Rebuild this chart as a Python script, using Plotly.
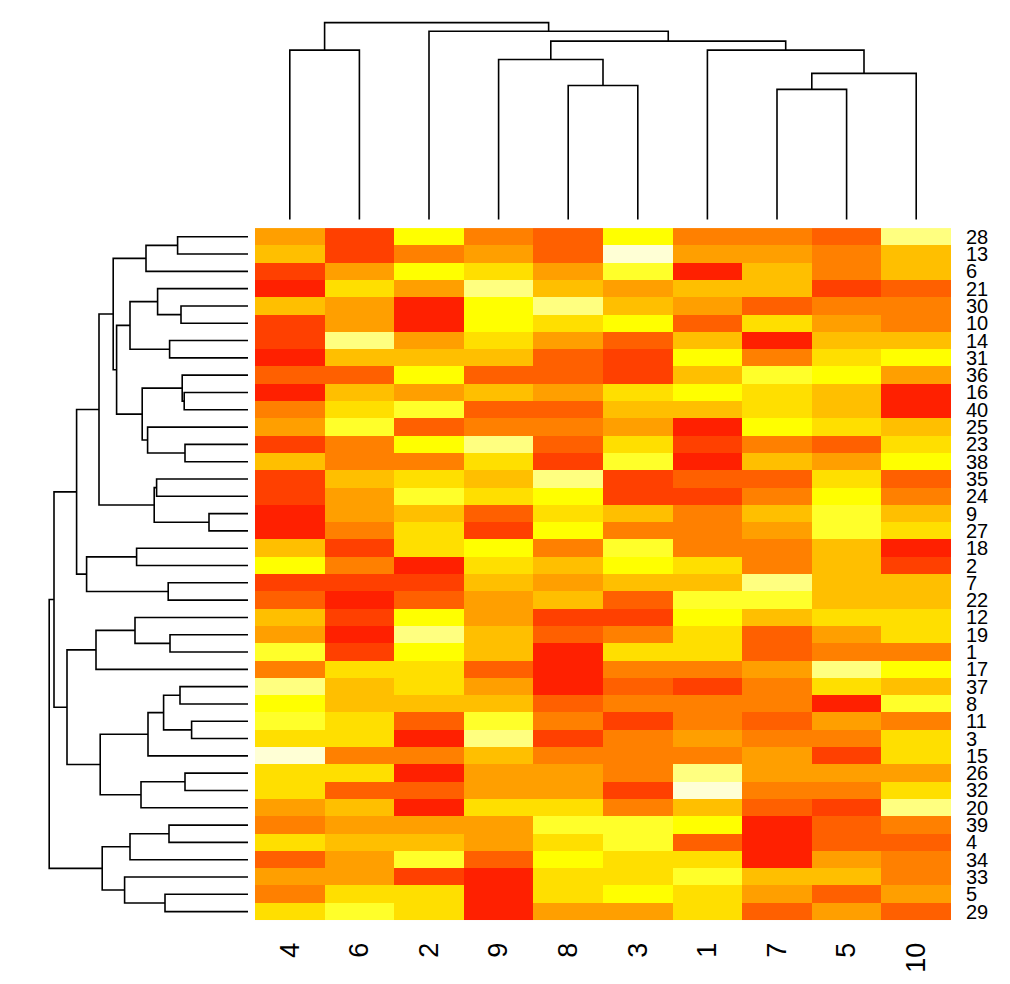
import plotly.graph_objects as go

# ---------------- data ----------------
col_labels = ["4", "6", "2", "9", "8", "3", "1", "7", "5", "10"]
row_labels = ["28", "13", "6", "21", "30", "10", "14", "31", "36", "16",
              "40", "25", "23", "38", "35", "24", "9", "27", "18", "2",
              "7", "22", "12", "19", "1", "17", "37", "8", "11", "3",
              "15", "26", "32", "20", "39", "4", "34", "33", "5", "29"]

# colour level (0..11 of heat.colors(12)) of each cell, rows in display order
cell_levels = [
    [5, 2, 8, 4, 3, 8, 4, 4, 3, 10],   # 28
    [6, 2, 4, 5, 3, 11, 5, 5, 4, 6],   # 13
    [2, 5, 8, 7, 5, 9, 1, 6, 4, 6],    # 6
    [1, 7, 5, 10, 6, 5, 6, 6, 2, 3],   # 21
    [6, 5, 1, 8, 10, 6, 5, 3, 4, 4],   # 30
    [2, 5, 1, 8, 7, 8, 3, 7, 5, 4],    # 10
    [2, 10, 5, 7, 5, 3, 6, 1, 6, 6],   # 14
    [1, 6, 6, 6, 3, 2, 8, 4, 7, 8],    # 31
    [3, 3, 8, 3, 3, 2, 6, 9, 8, 5],    # 36
    [1, 6, 5, 6, 5, 7, 8, 7, 6, 1],    # 16
    [4, 7, 9, 3, 3, 6, 6, 7, 6, 1],    # 40
    [5, 9, 3, 4, 4, 5, 1, 8, 7, 6],    # 25
    [2, 4, 8, 10, 3, 7, 2, 4, 3, 7],   # 23
    [6, 4, 4, 7, 2, 9, 1, 6, 5, 8],    # 38
    [2, 6, 7, 6, 10, 2, 3, 3, 7, 3],   # 35
    [2, 5, 9, 7, 8, 2, 2, 4, 8, 4],    # 24
    [1, 5, 6, 3, 7, 6, 4, 6, 9, 6],    # 9
    [1, 4, 7, 2, 8, 4, 4, 5, 9, 7],    # 27
    [6, 2, 7, 8, 4, 9, 4, 4, 6, 1],    # 18
    [8, 4, 1, 7, 6, 8, 7, 4, 6, 2],    # 2
    [2, 2, 2, 6, 5, 6, 6, 10, 6, 6],   # 7
    [3, 1, 3, 5, 6, 3, 9, 9, 6, 6],    # 22
    [6, 2, 8, 5, 2, 2, 8, 6, 7, 7],    # 12
    [5, 1, 10, 6, 3, 4, 7, 3, 5, 7],   # 19
    [9, 2, 8, 6, 1, 7, 7, 3, 4, 4],    # 1
    [4, 7, 7, 3, 1, 4, 4, 5, 10, 8],   # 17
    [10, 6, 7, 5, 1, 3, 2, 4, 7, 6],   # 37
    [8, 6, 6, 6, 3, 4, 4, 4, 1, 9],    # 8
    [9, 7, 3, 9, 4, 2, 4, 3, 5, 4],    # 11
    [7, 7, 1, 10, 2, 4, 5, 4, 4, 7],   # 3
    [11, 4, 4, 6, 4, 4, 4, 5, 2, 7],   # 15
    [7, 7, 1, 5, 5, 4, 10, 5, 5, 5],   # 26
    [7, 3, 3, 5, 5, 2, 11, 4, 4, 7],   # 32
    [5, 6, 1, 7, 7, 4, 6, 3, 2, 10],   # 20
    [4, 5, 5, 5, 9, 9, 8, 1, 3, 4],    # 39
    [7, 6, 6, 5, 7, 9, 3, 1, 3, 3],    # 4
    [3, 5, 9, 3, 8, 7, 7, 1, 5, 4],    # 34
    [5, 5, 2, 1, 7, 7, 9, 6, 6, 4],    # 33
    [4, 7, 7, 1, 7, 8, 7, 5, 3, 5],    # 5
    [7, 9, 7, 1, 5, 5, 7, 3, 5, 3],    # 29
]

heat_colors = ["#FF0000", "#FF2000", "#FF4000", "#FF6000", "#FF8000", "#FF9F00",
               "#FFBF00", "#FFDF00", "#FFFF00", "#FFFF2A", "#FFFF80", "#FFFFD5"]

# dendrogram merges: (left, right, height); str = leaf label, int = earlier merge
row_merges = [
    ("28", "13", 3.52), (0, "6", 5.10), ("30", "10", 3.35), ("21", 2, 4.52),
    ("14", "31", 3.92), (3, 4, 5.90), ("16", "40", 3.19), ("36", 6, 3.29),
    ("23", "38", 3.15), ("25", 8, 5.02), (7, 9, 5.29), (5, 10, 6.57),
    (1, 11, 6.74), ("35", "24", 4.57), ("9", "27", 1.95), (13, 14, 4.69),
    (12, 15, 7.45), ("18", "2", 5.57), ("7", "22", 3.99), (17, 18, 8.07),
    (16, 19, 8.57), ("19", "1", 3.90), ("12", 21, 5.65), (22, "17", 7.60),
    ("37", "8", 3.40), ("11", "3", 2.82), (24, 25, 4.22), (26, "15", 5.00),
    ("26", "32", 3.15), (28, "20", 5.35), (27, 29, 7.39), (23, 30, 9.05),
    (20, 31, 9.70), ("39", "4", 3.95), (33, "34", 5.90), ("5", "29", 4.15),
    ("33", 35, 6.17), (34, 36, 7.29), (32, 37, 9.94),
]
col_merges = [
    ("4", "6", 8.50), ("8", "3", 6.72), ("9", 1, 8.03), ("7", "5", 6.53),
    (3, "10", 7.33), ("1", 4, 8.50), (2, 5, 8.95), ("2", 6, 9.45), (0, 7, 9.88),
]


# ---------------- helpers ----------------
def dendro_segments(merges, labels):
    pos_leaf = {lab: i for i, lab in enumerate(labels)}
    node_pos, node_h = [], []
    P, H = [], []

    def info(ref):
        if isinstance(ref, str):
            return pos_leaf[ref], 0.0
        return node_pos[ref], node_h[ref]

    for a, b, h in merges:
        pa, ha = info(a)
        pb, hb = info(b)
        P += [pa, pa, pb, pb, None]
        H += [ha, h, h, hb, None]
        node_pos.append((pa + pb) / 2)
        node_h.append(h)
    return P, H


W, Hgt = 1010, 984
hx0, hx1 = 255 / W, 951 / W
hy0, hy1 = (Hgt - 922) / Hgt, (Hgt - 227) / Hgt

n_rows, n_cols = len(row_labels), len(col_labels)
nlev = len(heat_colors)
cs = []
for i, c in enumerate(heat_colors):
    cs.append([i / nlev, c])
    cs.append([(i + 1) / nlev, c])

fig = go.Figure()
fig.add_trace(go.Heatmap(
    z=cell_levels, x=list(range(n_cols)), y=list(range(n_rows)),
    colorscale=cs, zmin=-0.5, zmax=nlev - 0.5, showscale=False,
    xgap=0, ygap=0, hoverinfo="skip"))

# left (row) dendrogram
rp, rh = dendro_segments(row_merges, row_labels)
fig.add_trace(go.Scatter(x=rh, y=rp, mode="lines", xaxis="x2", yaxis="y2",
                         line=dict(color="black", width=1.6), hoverinfo="skip"))
# top (column) dendrogram
cp, ch = dendro_segments(col_merges, col_labels)
fig.add_trace(go.Scatter(x=cp, y=ch, mode="lines", xaxis="x3", yaxis="y3",
                         line=dict(color="black", width=1.6), hoverinfo="skip"))

font_family = "Liberation Sans, Arial, sans-serif"
fig.update_layout(
    width=W, height=Hgt, margin=dict(l=0, r=0, t=0, b=0),
    paper_bgcolor="white", plot_bgcolor="white", showlegend=False,
    font=dict(family=font_family, color="black"),
    xaxis=dict(domain=[hx0, hx1], range=[-0.5, n_cols - 0.5],
               tickvals=list(range(n_cols)), ticktext=col_labels,
               tickangle=-90, tickfont=dict(size=27), ticks="",
               ticklabelstandoff=16, showgrid=False, zeroline=False,
               showline=False, anchor="y"),
    yaxis=dict(domain=[hy0, hy1], range=[n_rows - 0.5, -0.5],
               tickvals=list(range(n_rows)), ticktext=row_labels,
               side="right", tickfont=dict(size=20), ticks="",
               ticklabelstandoff=14, showgrid=False, zeroline=False,
               showline=False, anchor="x"),
    xaxis2=dict(domain=[0, 255 / W], range=[12.4, -0.35], visible=False,
                anchor="y2"),
    yaxis2=dict(domain=[hy0, hy1], range=[n_rows - 0.5, -0.5], visible=False,
                anchor="x2"),
    xaxis3=dict(domain=[hx0, hx1], range=[-0.5, n_cols - 0.5], visible=False,
                anchor="y3"),
    yaxis3=dict(domain=[hy1, 1.0], range=[-0.435, 10.915], visible=False,
                anchor="x3"),
)

fig.write_html("out.html", config={"displayModeBar": False},
               post_script="document.body.style.margin='0px';")
